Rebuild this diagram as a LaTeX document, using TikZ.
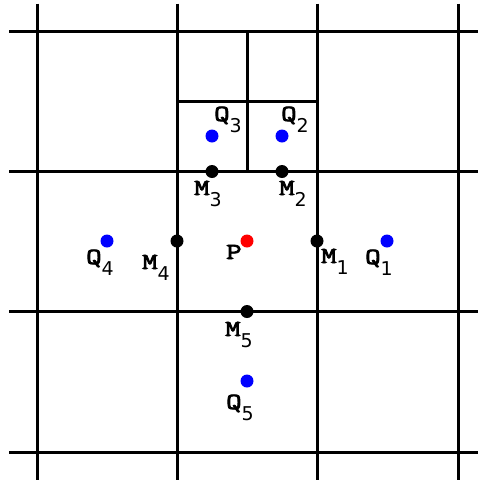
\documentclass[tikz,border=0pt]{standalone}
\usepackage{graphicx}
\usepackage{fontspec}
\newfontfamily\digfont{DejaVu Sans}
\newfontfamily\labfont{Latin Modern Mono}[FakeBold=3]
\newcommand\letr[1]{{\fontsize{23}{23}\labfont\scalebox{1.3}[1]{#1}}}
\newcommand\lab[2]{\letr{#1}\raisebox{-11pt}{\fontsize{19}{19}\digfont #2}}
\begin{document}
\begin{tikzpicture}[x=1pt,y=-1pt,
  gridline/.style={line width=3pt},
  dot/.style={circle,inner sep=0pt,minimum size=13pt},
  bdot/.style={dot,fill=blue},
  kdot/.style={dot,fill=black},
  rdot/.style={dot,fill=red},
  lbl/.style={anchor=base west,inner sep=0pt}]
\path[use as bounding box] (0,0) rectangle (478,483);
% grid
\foreach \y in {31.5,171.5,311.5,452} \draw[gridline] (9,\y) -- (478,\y);
\foreach \x in {37,177,317,458} \draw[gridline] (\x,3.5) -- (\x,480);
\draw[gridline] (247,31.5) -- (247,171.5);
\draw[gridline] (177,101.5) -- (317,101.5);
% dots
\node[bdot] (q3) at (212,136) {};
\node[bdot] (q2) at (282,136) {};
\node[bdot] (q4) at (107,241) {};
\node[bdot] (q1) at (387,241) {};
\node[bdot] (q5) at (247,381) {};
\node[kdot] (m3) at (212,171.5) {};
\node[kdot] (m2) at (282,171.5) {};
\node[kdot] (m4) at (177,241) {};
\node[kdot] (m1) at (317,241) {};
\node[kdot] (m5) at (247,311.5) {};
\node[rdot] (p) at (247,241) {};
% labels
\node[lbl] (lq3) at (214,121) {\lab{Q}{3}};
\node[lbl] (lq2) at (281,121) {\lab{Q}{2}};
\node[lbl] (lm3) at (194,195) {\lab{M}{3}};
\node[lbl] (lm2) at (279,195) {\lab{M}{2}};
\node[lbl] (lq4) at (86,264) {\lab{Q}{4}};
\node[lbl] (lm4) at (142,269) {\lab{M}{4}};
\node[lbl] (lp) at (226,259) {\letr{P}};
\node[lbl] (lm1) at (321,263) {\lab{M}{1}};
\node[lbl] (lq1) at (365,264) {\lab{Q}{1}};
\node[lbl] (lm5) at (225,336) {\lab{M}{5}};
\node[lbl] (lq5) at (226,409) {\lab{Q}{5}};
\end{tikzpicture}
\end{document}
